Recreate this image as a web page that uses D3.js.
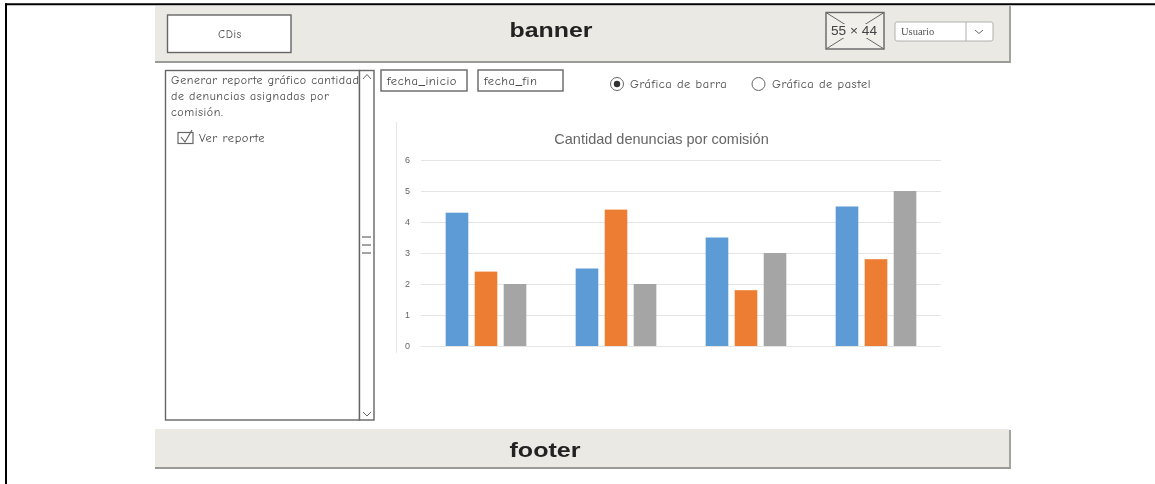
<!DOCTYPE html>
<html>
<head>
<meta charset="utf-8">
<style>
  html, body { margin: 0; padding: 0; background: #fff; }
  svg { display: block; }
  .sketch { font-family: "Comic Neue", "Lato", "Noto Sans", sans-serif; fill: #4a4a4a; letter-spacing: 0.55px; }
</style>
<script src="https://cdn.jsdelivr.net/npm/d3@7/dist/d3.min.js"></script>
</head>
<body>
<svg id="page" width="1155" height="484"></svg>
<script>
// Report values per commission, one array per series
const categories = ["Comisión 1", "Comisión 2", "Comisión 3", "Comisión 4"];
const seriesA = [4.3, 2.5, 3.5, 4.5];
const seriesB = [2.4, 4.4, 1.8, 2.8];
const seriesC = [2, 2, 3, 5];
const seriesColors = ["#5b9bd5", "#ed7d31", "#a5a5a5"];
const yTicks = [0, 1, 2, 3, 4, 5, 6];
const chartTitle = "Cantidad denuncias por comisión";
const descriptionLines = ["Generar reporte gráfico cantidad", "de denuncias asignadas por", "comisión."];

const svg = d3.select("#page");
const GREY = "#666";

// Slight softness shared by the whole screen mockup
const defs = svg.append("defs");
defs.append("filter").attr("id", "soft").append("feGaussianBlur").attr("stdDeviation", 0.5);
const root = svg.append("g").attr("filter", "url(#soft)");

function box(x, y, w, h, opts = {}) {
  return root.append("rect").attr("x", x).attr("y", y).attr("width", w).attr("height", h)
    .attr("fill", opts.fill || "#fff").attr("stroke", opts.stroke || GREY)
    .attr("stroke-width", opts.sw === undefined ? 1.4 : opts.sw).attr("rx", opts.rx || 0);
}
function label(x, y, t, size, opts = {}) {
  const node = root.append("text").attr("x", x).attr("y", y).text(t)
    .attr("font-size", size).attr("class", opts.cls === undefined ? "sketch" : opts.cls)
    .attr("text-anchor", opts.anchor || "start")
    .attr("font-family", opts.family || null)
    .attr("font-weight", opts.weight || null)
    .style("fill", opts.fill || null);
  if (opts.stretch) node.attr("textLength", opts.stretch).attr("lengthAdjust", "spacingAndGlyphs");
  return node;
}
function line(x1, y1, x2, y2, color = GREY, sw = 1.4) {
  root.append("line").attr("x1", x1).attr("y1", y1).attr("x2", x2).attr("y2", y2)
    .attr("stroke", color).attr("stroke-width", sw);
}

// Page frame: top and left rules only
svg.append("line").attr("x1", 5).attr("x2", 1155).attr("y1", 4.3).attr("y2", 4.3).attr("stroke", "#000").attr("stroke-width", 2);
svg.append("line").attr("x1", 6).attr("x2", 6).attr("y1", 3.3).attr("y2", 484).attr("stroke", "#000").attr("stroke-width", 2);

// Banner
box(155, 6, 854, 56, { fill: "#ebe9e3", stroke: "none", sw: 0 });
line(155, 62, 1010, 62, "#9a9a96", 1.8);
line(1010, 6, 1010, 63, "#9a9a96", 1.8);
box(167.5, 15, 123.5, 37.5);
label(230, 38, "CDis", 11.5, { anchor: "middle" });
label(551, 37, "banner", 21, { cls: "", anchor: "middle", family: "Liberation Sans, sans-serif", weight: "bold", fill: "#222", stretch: 83 });

// Image placeholder and user selector
box(826, 12.5, 58, 36.5, { fill: "#f1efea" });
line(826, 12.5, 884, 49, GREY, 1);
line(884, 12.5, 826, 49, GREY, 1);
root.append("rect").attr("x", 831).attr("y", 24).attr("width", 47).attr("height", 14).attr("fill", "#f1efea");
label(854, 35, "55 × 44", 12, { cls: "", anchor: "middle", family: "Liberation Sans, sans-serif", fill: "#444", stretch: 46 });
box(895, 22, 98, 19, { stroke: "#b0b0ac", sw: 1, rx: 2 });
line(966, 22, 966, 41, "#b0b0ac", 1);
label(901, 35, "Usuario", 10.5, { cls: "", family: "Liberation Serif, serif", fill: "#555" });
root.append("path").attr("d", "M975,30 L979,33.5 L983,30").attr("fill", "none").attr("stroke", GREY);

// Side panel text runs under the scrollbar
box(165.5, 70.5, 194, 349.5);
root.selectAll("text.desc").data(descriptionLines).join("text")
  .attr("class", "desc sketch")
  .attr("x", 171).attr("y", (d, i) => 84 + i * 16)
  .attr("font-size", 12).text(d => d);
box(359.5, 70.5, 14.5, 349.5);
root.append("path").attr("d", "M363,79 L367,74.5 L371,79").attr("fill", "none").attr("stroke", GREY);
root.append("path").attr("d", "M363,412 L367,416 L371,412").attr("fill", "none").attr("stroke", GREY);
[237, 245, 253].forEach(y => line(362, y, 371, y, GREY, 1.2));

box(178, 132.5, 15, 11, { sw: 1.2 });
root.append("path").attr("d", "M181,137 L185,142 L192,130").attr("fill", "none").attr("stroke", GREY).attr("stroke-width", 1.2);
label(199, 142, "Ver reporte", 12.5);

// Date fields and chart type choice
box(381, 70, 86, 21);
label(387, 85, "fecha_inicio", 12.6);
box(478, 70, 85, 21);
label(484, 85, "fecha_fin", 12.6);

root.append("circle").attr("cx", 617).attr("cy", 84).attr("r", 6.5).attr("fill", "#fff").attr("stroke", GREY);
root.append("circle").attr("cx", 617).attr("cy", 84).attr("r", 3.2).attr("fill", "#333");
label(630, 88, "Gráfica de barra", 12.4);
root.append("circle").attr("cx", 758.5).attr("cy", 84).attr("r", 6.5).attr("fill", "#fff").attr("stroke", GREY);
label(772, 88, "Gráfica de pastel", 12.4);

// Bar chart
const x0 = d3.scaleBand().domain(categories).range([421, 941]);
const y = d3.scaleLinear().domain([0, 6]).range([346, 160]);
const series = [seriesA, seriesB, seriesC];
const x1 = d3.scaleBand().domain(d3.range(series.length)).range([0, x0.step()]).paddingInner(0.22).paddingOuter(0.85);

line(396.5, 122, 396.5, 353, "#e6e6e6", 1);
root.append("text").attr("x", 661.5).attr("y", 144).attr("text-anchor", "middle")
  .attr("font-family", "Liberation Sans, sans-serif").attr("font-size", 14.5).attr("fill", "#666").text(chartTitle);

const yAxis = d3.axisLeft(y).tickValues(yTicks).tickSize(-(941 - 421)).tickPadding(11).tickFormat(d3.format("d"));
const axisG = root.append("g").attr("transform", "translate(421,0)").call(yAxis);
axisG.select(".domain").remove();
axisG.selectAll(".tick line").attr("stroke", "#e4e4e4").attr("stroke-width", 1);
axisG.selectAll(".tick text").attr("fill", "#666").attr("font-size", 9).attr("font-family", "Liberation Sans, sans-serif");

series.forEach((vals, s) => {
  root.append("g").selectAll("rect").data(vals).join("rect")
    .attr("x", (d, i) => x0(categories[i]) + x1(s))
    .attr("y", d => y(d))
    .attr("width", x1.bandwidth())
    .attr("height", d => y(0) - y(d))
    .attr("fill", seriesColors[s]);
});

// Footer
box(155, 429, 854, 39, { fill: "#ebe9e3", stroke: "none", sw: 0 });
line(155, 468, 1010, 468, "#9a9a96", 1.8);
line(1010, 430, 1010, 469, "#9a9a96", 1.8);
label(545, 457, "footer", 21, { cls: "", anchor: "middle", family: "Liberation Sans, sans-serif", weight: "bold", fill: "#222", stretch: 71 });
</script>
</body>
</html>
